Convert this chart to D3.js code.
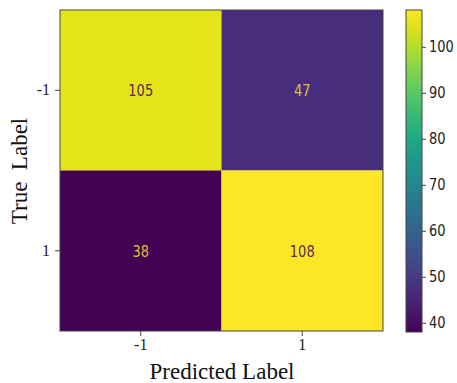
<!DOCTYPE html>
<html><head><meta charset="utf-8">
<script src="https://cdn.jsdelivr.net/npm/d3@7"></script>
<style>body{margin:0;background:#fff}svg{display:block}</style>
</head><body>
<script>
const trueLabels = ["-1", "1"];
const predLabels = ["-1", "1"];
const matrix = [[105, 47], [38, 108]];
const cbTicks = [40, 50, 60, 70, 80, 90, 100];
const vmin = 38, vmax = 108;

const W = 457, H = 383;
const svg = d3.select("body").append("svg").attr("width", W).attr("height", H);

const x = d3.scaleBand().domain(predLabels).range([60, 383]);
const y = d3.scaleBand().domain(trueLabels).range([10, 331]);
const color = d3.scaleSequential(d3.interpolateViridis).domain([vmin, vmax]);

const cells = [];
matrix.forEach((row, i) => row.forEach((v, j) => cells.push({t: trueLabels[i], p: predLabels[j], v})));

svg.selectAll("rect.cell").data(cells).enter().append("rect")
  .attr("x", d => x(d.p)).attr("y", d => y(d.t))
  .attr("width", x.bandwidth()).attr("height", y.bandwidth())
  .attr("fill", d => color(d.v));

const mid = (vmin + vmax) / 2;
svg.selectAll("text.val").data(cells).enter().append("text")
  .attr("transform", d => `translate(${x(d.p) + x.bandwidth()/2},${y(d.t) + y.bandwidth()/2}) scale(1,1.25)`)
  .attr("text-anchor", "middle").attr("dy", "0.36em")
  .attr("font-family", "DejaVu Sans").attr("font-size", 13)
  .attr("fill", d => d.v > mid ? "#5a2a5e" : "#dcc03a")
  .text(d => d.v);

svg.append("rect").attr("x", 60).attr("y", 10).attr("width", 323).attr("height", 321)
  .attr("fill", "none").attr("stroke", "#444").attr("stroke-width", 1);

// axes
const xAxis = svg.append("g").attr("transform", "translate(0,331)")
  .call(d3.axisBottom(x).tickSize(5).tickPadding(3));
const yAxis = svg.append("g").attr("transform", "translate(60,0)")
  .call(d3.axisLeft(y).tickSize(5).tickPadding(5));
[xAxis, yAxis].forEach(g => {
  g.select(".domain").remove();
  g.selectAll("line").attr("stroke", "#444");
  g.selectAll("text").attr("font-family", "Liberation Serif").attr("font-size", 16).attr("fill", "#222");
});

svg.append("text").attr("x", 222).attr("y", 379).attr("text-anchor", "middle")
  .attr("font-family", "Liberation Serif").attr("font-size", 23).attr("fill", "#111")
  .text("Predicted Label");
svg.append("text").attr("transform", "translate(27,171) rotate(-90)").attr("text-anchor", "middle")
  .attr("font-family", "Liberation Serif").attr("font-size", 23).attr("fill", "#111")
  .style("white-space", "pre")
  .text("True  Label");

// colorbar
const cb = d3.scaleLinear().domain([vmin, vmax]).range([332, 10]);
const defs = svg.append("defs");
const grad = defs.append("linearGradient").attr("id", "vir").attr("x1", 0).attr("y1", 1).attr("x2", 0).attr("y2", 0);
d3.range(0, 1.0001, 0.05).forEach(t => grad.append("stop").attr("offset", t).attr("stop-color", d3.interpolateViridis(t)));
svg.append("rect").attr("x", 406).attr("y", cb(vmax)).attr("width", 16).attr("height", cb(vmin) - cb(vmax))
  .attr("fill", "url(#vir)").attr("stroke", "#444").attr("stroke-width", 1);
const cbAxis = svg.append("g").attr("transform", "translate(422,0)")
  .call(d3.axisRight(cb).tickValues(cbTicks).tickSize(4).tickPadding(3));
cbAxis.select(".domain").remove();
cbAxis.selectAll("line").attr("stroke", "#444");
cbAxis.selectAll("text").attr("font-family", "DejaVu Sans").attr("font-size", 13).attr("fill", "#222")
  .attr("transform", "scale(1,1.2)").attr("dy", "0.3em");
</script>
</body></html>
